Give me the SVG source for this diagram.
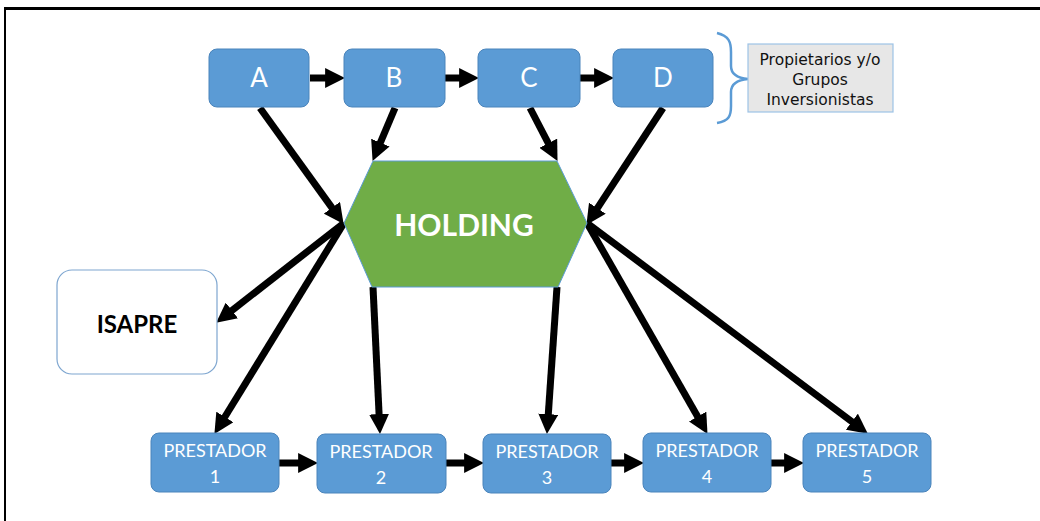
<svg xmlns="http://www.w3.org/2000/svg" width="1040" height="521" viewBox="0 0 1040 521">
<style>
.box{fill:#5b9bd5;stroke:#4a84bb;stroke-width:1}
.wt{fill:#ffffff;font-family:Lato,"Liberation Sans",Arial,sans-serif;text-anchor:middle}
.big{font-size:26px}
.pr{font-size:18px}
.con line{stroke:#000;stroke-width:7;marker-end:url(#ah)}
.own{font-family:"DejaVu Sans",Verdana,sans-serif;font-size:15.5px;text-anchor:middle;fill:#111}
</style>
<defs>
<marker id="ah" markerUnits="userSpaceOnUse" markerWidth="20" markerHeight="20" viewBox="0 0 18 18" refX="8" refY="9" orient="auto">
<path d="M0,0 L18,9 L0,18 z" fill="#000"/>
</marker>
</defs>
<rect width="1040" height="521" fill="#ffffff"/>
<line x1="4" y1="8.5" x2="1040" y2="8.5" stroke="#000" stroke-width="3"/>
<line x1="5" y1="8" x2="5" y2="521" stroke="#000" stroke-width="2"/>

<g id="connectors" class="con">
<line x1="310" y1="78" x2="334" y2="78"/>
<line x1="445" y1="78" x2="468" y2="78"/>
<line x1="580" y1="78" x2="603" y2="78"/>
<line x1="279" y1="463" x2="307" y2="463"/>
<line x1="446" y1="463" x2="473" y2="463"/>
<line x1="611" y1="463" x2="633" y2="463"/>
<line x1="771" y1="463" x2="793" y2="463"/>
<line x1="260" y1="108" x2="337.1" y2="214.9"/>
<line x1="395" y1="108" x2="376.9" y2="150.8"/>
<line x1="530" y1="108" x2="552.4" y2="151.1"/>
<line x1="663" y1="108" x2="592.5" y2="215.6"/>
<line x1="344" y1="223" x2="224.9" y2="315.9"/>
<line x1="344" y1="223" x2="220.2" y2="424.5"/>
<line x1="373" y1="287" x2="379.5" y2="423"/>
<line x1="557" y1="287" x2="547.7" y2="423"/>
<line x1="587" y1="223" x2="702" y2="424.3"/>
<line x1="587" y1="223" x2="859" y2="427"/>
</g>

<g id="nodeA"><rect class="box" x="209" y="49" width="100" height="58" rx="8"/><text class="wt big" x="259" y="87">A</text></g>
<g id="nodeB"><rect class="box" x="344" y="49" width="101" height="58" rx="8"/><text class="wt big" x="394" y="87">B</text></g>
<g id="nodeC"><rect class="box" x="478" y="49" width="102" height="58" rx="8"/><text class="wt big" x="529" y="87">C</text></g>
<g id="nodeD"><rect class="box" x="613" y="49" width="100" height="58" rx="8"/><text class="wt big" x="663" y="87">D</text></g>

<g id="brace">
<path d="M717,33 C729,36 731,42 731,52 L731,66 C731,74 737,78 748,79 C737,80 731,84 731,92 L731,106 C731,116 729,121 717,123" fill="none" stroke="#5b9bd5" stroke-width="2.5"/>
</g>
<g id="owners">
<rect x="748" y="44" width="145" height="68" fill="#e7e7e7" stroke="#9dc3e6" stroke-width="1.2"/>
<text class="own" x="820" y="65">Propietarios y/o</text>
<text class="own" x="820" y="85">Grupos</text>
<text class="own" x="820" y="105">Inversionistas</text>
</g>

<g id="holding">
<polygon points="373,161 557,161 587,223 558,287 372,287 344,223" fill="#70ad47" stroke="#5b9bd5" stroke-width="1"/>
<text x="464" y="236" font-family="Lato,'Liberation Sans',Arial,sans-serif" font-weight="bold" font-size="30" text-anchor="middle" fill="#ffffff">HOLDING</text>
</g>

<g id="isapre">
<rect x="57" y="270" width="160" height="104" rx="15" fill="#ffffff" stroke="#7ea6d0" stroke-width="1.2"/>
<text x="137" y="333" font-family="Lato,'Liberation Sans',Arial,sans-serif" font-weight="bold" font-size="24" text-anchor="middle" fill="#000">ISAPRE</text>
</g>

<g id="p1"><rect class="box" x="151" y="433" width="128" height="59" rx="8"/><text class="wt pr" x="215" y="457">PRESTADOR</text><text class="wt pr" x="215" y="483">1</text></g>
<g id="p2"><rect class="box" x="317" y="434" width="129" height="59" rx="8"/><text class="wt pr" x="381" y="458">PRESTADOR</text><text class="wt pr" x="381" y="484">2</text></g>
<g id="p3"><rect class="box" x="483" y="434" width="128" height="59" rx="8"/><text class="wt pr" x="547" y="458">PRESTADOR</text><text class="wt pr" x="547" y="484">3</text></g>
<g id="p4"><rect class="box" x="643" y="433" width="128" height="59" rx="8"/><text class="wt pr" x="707" y="457">PRESTADOR</text><text class="wt pr" x="707" y="483">4</text></g>
<g id="p5"><rect class="box" x="803" y="433" width="128" height="59" rx="8"/><text class="wt pr" x="867" y="457">PRESTADOR</text><text class="wt pr" x="867" y="483">5</text></g>
</svg>
